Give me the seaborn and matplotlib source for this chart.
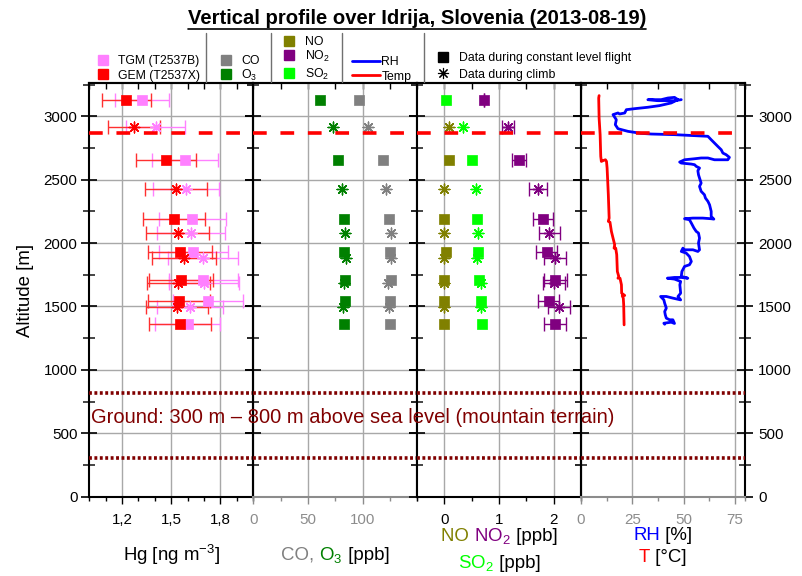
import matplotlib
matplotlib.use("Agg")
import matplotlib.pyplot as plt
import seaborn as sns
import numpy as np
import pandas as pd
from matplotlib.lines import Line2D
from matplotlib.ticker import MultipleLocator, FixedLocator, FuncFormatter
from matplotlib.offsetbox import TextArea, HPacker, AnchoredOffsetbox
import matplotlib.transforms as mtransforms
from matplotlib import font_manager

# ---------------- data ----------------
alt_level = [3131, 2652, 2189, 1928, 1710, 1547, 1361]   # constant level flight
alt_climb = [2913, 2428, 2078, 1881, 1684, 1492]         # during climb

gem_level = [1.226, 1.468, 1.516, 1.553, 1.557, 1.547, 1.553]
gem_level_err = [0.150, 0.183, 0.190, 0.197, 0.195, 0.190, 0.190]
tgm_level = [1.323, 1.584, 1.628, 1.634, 1.695, 1.726, 1.600]
tgm_level_err = [0.165, 0.200, 0.204, 0.210, 0.210, 0.213, 0.197]
gem_climb = [1.274, 1.527, 1.539, 1.577, 1.543, 1.533]
gem_climb_err = [0.158, 0.190, 0.193, 0.197, 0.193, 0.190]
tgm_climb = [1.405, 1.590, 1.620, 1.695, 1.701, 1.614]
tgm_climb_err = [0.180, 0.200, 0.210, 0.214, 0.212, 0.200]

o3_level = [61.3, 77.3, 82.7, 83.1, 84.0, 84.3, 83.4]
co_level = [97.0, 119.0, 124.6, 125.5, 125.8, 125.5, 125.2]
o3_climb = [73.4, 81.5, 84.3, 84.9, 82.7, 82.5]
co_climb = [104.6, 121.8, 125.8, 126.0, 123.4, 124.0]

no_level = [np.nan, 0.085, 0.0, 0.025, 0.0, 0.0, 0.0]
so2_level = [0.025, 0.497, 0.588, 0.606, 0.636, 0.661, 0.685]
no2_level = [0.716, 1.370, 1.800, 1.873, 2.025, 1.910, 2.030]
no2_level_err = [0.0, 0.13, 0.18, 0.19, 0.21, 0.19, 0.20]
no_climb = [0.085, 0.0, 0.0, 0.0, 0.0, 0.0]
so2_climb = [0.345, 0.576, 0.618, 0.588, 0.667, 0.667]
no2_climb = [1.164, 1.709, 1.921, 2.025, 2.000, 2.100]
no2_climb_err = [0.11, 0.17, 0.20, 0.20, 0.20, 0.20]

rh_vals = [40.8, 40.4, 44.0, 45.6, 44.8, 43.2, 41.6, 41.1, 40.8, 41.6,
           40.8, 40.4, 38.8, 41.6, 44.8, 48.6, 47.3, 48.6, 48.2, 48.6,
           45.6, 42.1, 45.6, 48.9, 52.1, 48.9, 49.2, 50.5, 52.9, 53.8,
           52.9, 51.3, 48.9, 49.7, 50.5, 54.6, 57.0, 57.8, 57.3, 57.8,
           57.3, 56.2, 55.1, 53.8, 52.9, 50.5, 54.6, 59.4, 63.5, 64.8,
           63.5, 63.5, 62.7, 61.9, 60.7, 60.2, 58.6, 57.8, 58.6, 57.8,
           57.3, 57.0, 57.8, 56.2, 55.4, 53.8, 48.9, 48.1, 50.5, 55.4,
           58.6, 61.9, 65.1, 71.6, 72.4, 70.8, 69.2, 68.4, 66.7, 65.1,
           63.5, 61.9, 45.6, 34.3, 29.4, 22.9, 18.0, 16.7, 17.2, 16.1,
           15.6, 18.0, 18.8, 21.3, 22.1, 26.2, 32.6, 38.3, 44.0, 45.6,
           47.3, 45.6, 42.4, 39.1, 35.9, 32.6, 37.5, 45.6, 48.9]
rh_alt = [1360, 1368, 1376, 1366, 1395, 1395, 1408, 1434, 1460, 1487,
          1526, 1552, 1579, 1579, 1566, 1552, 1579, 1605, 1671, 1697,
          1716, 1723, 1729, 1729, 1723, 1737, 1776, 1816, 1829, 1855,
          1894, 1921, 1934, 1960, 1947, 1947, 1934, 1947, 2000, 2039,
          2079, 2092, 2118, 2158, 2184, 2192, 2197, 2197, 2192, 2189,
          2210, 2250, 2302, 2329, 2355, 2381, 2408, 2447, 2473, 2513,
          2539, 2571, 2592, 2605, 2618, 2623, 2631, 2639, 2657, 2665,
          2671, 2671, 2657, 2657, 2676, 2697, 2710, 2736, 2763, 2789,
          2815, 2842, 2855, 2860, 2865, 2881, 2902, 2934, 2973, 3000,
          3013, 3026, 3018, 3026, 3052, 3060, 3071, 3084, 3105, 3118,
          3131, 3149, 3144, 3131, 3131, 3131, 3123, 3123, 3131]

t_vals = [21.0, 20.8, 20.6, 20.1, 21.3, 19.8, 19.7, 19.0, 18.0, 18.4,
          17.7, 17.4, 16.9, 16.1, 16.4, 15.6, 14.8, 14.1, 13.3, 13.7,
          13.3, 12.7, 12.4, 11.9, 10.7, 9.9, 9.6, 9.3, 8.8, 8.6, 8.8]
t_alt = [1355, 1513, 1566, 1584, 1587, 1605, 1671, 1723, 1723, 1737,
         1776, 1908, 1960, 1960, 1987, 2039, 2092, 2165, 2171, 2197,
         2381, 2592, 2644, 2657, 2650, 2644, 2684, 2855, 2986, 3144, 3163]

ceiling_alt = 2870          # red dashed line
ground_top_alt = 818        # dotted lines (ground range)
ground_bottom_alt = 305

title = "Vertical profile over Idrija, Slovenia (2013-08-19)"
ground_text = "Ground: 300 m \u2013 800 m above sea level (mountain terrain)"

# ---------------- style ----------------
sns.set_theme(style="white")
names = {f.name for f in font_manager.fontManager.ttflist}
NARROW = "Liberation Sans Narrow" in names
BASE = "Liberation Sans Narrow" if NARROW else "Liberation Sans"
k = 1.0 if NARROW else 0.84
plt.rcParams["font.family"] = [BASE, "DejaVu Sans"]
plt.rcParams["mathtext.fontset"] = "custom"
plt.rcParams["mathtext.rm"] = BASE
plt.rcParams["mathtext.it"] = BASE + ":italic"
plt.rcParams["mathtext.bf"] = BASE + ":bold"

C_TGM = "#ff80ff"; C_GEM = "#ff0000"; C_CO = "#808080"; C_O3 = "#008000"
C_NO = "#808000"; C_NO2 = "#800080"; C_SO2 = "#00ff00"
C_RH = "#0000ff"; C_T = "#ff0000"; C_GROUND = "#800000"
GRID = "#a8a8a8"; GRAYTXT = "#8c8c8c"
ASTER = (8, 2, 0)

W, H = 802, 576
fig, axes = plt.subplots(1, 4, figsize=(W / 100, H / 100), dpi=100, sharey=True)
fig.patch.set_facecolor("white")
fig.subplots_adjust(left=89.3 / W, right=745.0 / W, bottom=1 - 496.7 / H,
                    top=1 - 83.3 / H, wspace=0)
ax1, ax2, ax3, ax4 = axes

TICK_FS = 13 * k
LAB_FS = 16 * k


def squares(ax, x, y, c):
    sns.scatterplot(x=x, y=y, ax=ax, marker="s", s=48, color=c, edgecolor=c,
                    linewidth=0.5, zorder=5, legend=False)


def stars(ax, x, y, c):
    sns.scatterplot(x=x, y=y, ax=ax, marker=ASTER, s=60, color=c,
                    linewidth=1.0, zorder=5, legend=False)


def ebars(ax, x, y, err, c):
    ax.errorbar(x, y, xerr=err, fmt="none", ecolor=c, elinewidth=1.0,
                capsize=5, capthick=1.0, zorder=4)


# Panel 1: Hg
ebars(ax1, tgm_level, alt_level, tgm_level_err, C_TGM)
ebars(ax1, tgm_climb, alt_climb, tgm_climb_err, C_TGM)
ebars(ax1, gem_level, alt_level, gem_level_err, "#ff3030")
ebars(ax1, gem_climb, alt_climb, gem_climb_err, "#ff3030")
squares(ax1, tgm_level, alt_level, C_TGM)
stars(ax1, tgm_climb, alt_climb, C_TGM)
squares(ax1, gem_level, alt_level, C_GEM)
stars(ax1, gem_climb, alt_climb, C_GEM)

# Panel 2: CO, O3
squares(ax2, co_level, alt_level, C_CO)
stars(ax2, co_climb, alt_climb, C_CO)
squares(ax2, o3_level, alt_level, C_O3)
stars(ax2, o3_climb, alt_climb, C_O3)

# Panel 3: NO, NO2, SO2
ebars(ax3, no2_level, alt_level, no2_level_err, C_NO2)
ebars(ax3, no2_climb, alt_climb, no2_climb_err, C_NO2)
squares(ax3, no_level, alt_level, C_NO)
stars(ax3, no_climb, alt_climb, C_NO)
squares(ax3, so2_level, alt_level, C_SO2)
stars(ax3, so2_climb, alt_climb, C_SO2)
squares(ax3, no2_level, alt_level, C_NO2)
stars(ax3, no2_climb, alt_climb, C_NO2)

# Panel 4: RH, T
sns.lineplot(x=rh_vals, y=rh_alt, sort=False, estimator=None, ax=ax4,
             color=C_RH, lw=2.0, zorder=4)
sns.lineplot(x=t_vals, y=t_alt, sort=False, estimator=None, ax=ax4,
             color=C_T, lw=2.0, zorder=4)

# ---------------- axes ----------------
comma = FuncFormatter(lambda v, p: f"{v:.1f}".replace(".", ","))
xsetup = [
    (ax1, (1.0, 2.0), [1.2, 1.5, 1.8], [1.0, 1.1, 1.3, 1.4, 1.6, 1.7, 1.9, 2.0], "black", comma),
    (ax2, (0, 150), [0, 50, 100], [25, 75, 125, 150], GRAYTXT, None),
    (ax3, (-0.5, 2.5), [0, 1, 2], [-0.5, 0.5, 1.5, 2.5], "black", None),
    (ax4, (0, 80), [0, 25, 50, 75], [12.5, 37.5, 62.5, 80], GRAYTXT, None),
]
for ax, lim, maj, mnr, col, fmt in xsetup:
    ax.set_facecolor("white")
    ax.set_xlim(*lim)
    ax.set_ylim(0, 3260)
    ax.xaxis.set_major_locator(FixedLocator(maj))
    ax.xaxis.set_minor_locator(FixedLocator(mnr))
    if fmt is not None:
        ax.xaxis.set_major_formatter(fmt)
    ax.yaxis.set_major_locator(MultipleLocator(500))
    ax.yaxis.set_minor_locator(MultipleLocator(250))
    ax.grid(False)
    ax.xaxis.grid(True, which="major", color=GRID, lw=1.0)
    ax.yaxis.grid(True, which="major", color=GRID, lw=1.0)
    ax.set_axisbelow(True)
    ax.set_xlabel(""); ax.set_ylabel("")
    ax.tick_params(axis="x", which="major", direction="out", length=5, width=1.0,
                   colors=col, labelcolor=col, labelsize=TICK_FS, pad=7,
                   bottom=True, top=False)
    ax.tick_params(axis="x", which="minor", direction="out", length=3, width=1.0,
                   colors=col, bottom=True, top=False)
    ax.tick_params(axis="y", which="major", direction="inout", length=11, width=1.2,
                   left=True, right=True, labelleft=False, labelright=False,
                   labelsize=TICK_FS, colors="black", pad=3)
    ax.tick_params(axis="y", which="minor", direction="inout", length=8, width=1.2,
                   left=True, right=True)
    for s in ("left", "right", "top"):
        ax.spines[s].set_visible(True)
        ax.spines[s].set_color("black")
        ax.spines[s].set_linewidth(1.5)
    ax.spines["bottom"].set_visible(True)
    ax.spines["bottom"].set_color(col)
    ax.spines["bottom"].set_linewidth(1.5)
    sec = ax.secondary_xaxis("top")
    sec.xaxis.set_major_locator(FixedLocator(maj))
    sec.xaxis.set_minor_locator(FixedLocator(mnr))
    sec.tick_params(axis="x", which="both", direction="in", labeltop=False,
                    length=4, width=1.0, colors="black")
    sec.spines["top"].set_linewidth(1.5)

    ax.axhline(ceiling_alt, color="#ff0000", lw=2.6, ls=(0, (3.8, 3.8)), zorder=6)
    ax.axhline(ground_top_alt, color=C_GROUND, lw=2.6, ls=(0, (0.8, 0.7)), zorder=6)
    ax.axhline(ground_bottom_alt, color=C_GROUND, lw=2.6, ls=(0, (0.8, 0.7)), zorder=6)

ax1.tick_params(axis="y", labelleft=True)
ax4.tick_params(axis="y", labelright=True, pad=4)
ax1.set_ylabel("Altitude [m]", fontsize=LAB_FS, color="black", labelpad=7)

# ground annotation (figure-level so it sits above all panels)
trans = mtransforms.blended_transform_factory(ax1.transAxes, ax1.transData)
fig.text(0.01, 625, ground_text, transform=trans, color=C_GROUND,
         fontsize=17.3 * k, va="center", ha="left", zorder=10)


# multi-coloured x-axis labels
def colored_label(ax, pieces, yfrac, fs=LAB_FS):
    boxes = [TextArea(s, textprops=dict(color=c, fontsize=fs)) for s, c in pieces]
    pack = HPacker(children=boxes, align="baseline", pad=0, sep=0)
    ab = AnchoredOffsetbox(loc="center", child=pack, pad=0, borderpad=0,
                           frameon=False, bbox_to_anchor=(0.5, yfrac),
                           bbox_transform=ax.transAxes)
    fig.add_artist(ab)


def yf(px):
    return (496.7 - px) / 413.4


colored_label(ax1, [("Hg [ng m$^{-3}$]", "black")], yf(555))
colored_label(ax2, [("CO, ", C_CO), ("O$_3$", C_O3), (" [ppb]", "black")], yf(555))
colored_label(ax3, [("NO ", C_NO), ("NO$_2$", C_NO2), (" [ppb]", "black")], yf(536))
colored_label(ax3, [("SO$_2$", C_SO2), (" [ppb]", "black")], yf(563))
colored_label(ax4, [("RH", C_RH), (" [%]", "black")], yf(535))
colored_label(ax4, [("T", C_T), (" [\u00b0C]", "black")], yf(557))

# ---------------- legend (top) ----------------
LEG_FS = 10.5 * k
base_off = 0.36 * LEG_FS * 100 / 72


def fx(x):
    return x / W


def fy(y):
    return 1 - y / H


def leg_marker(x, y, marker, c, ms=6.5, mew=1.0):
    fig.add_artist(Line2D([fx(x)], [fy(y)], marker=marker, ms=ms, color=c,
                          mec=c, mfc=c, mew=mew, ls="none",
                          transform=fig.transFigure))


def leg_line(x0, x1, y, c):
    fig.add_artist(Line2D([fx(x0), fx(x1)], [fy(y), fy(y)], color=c, lw=2.0,
                          transform=fig.transFigure))


def leg_text(x, y, s):
    fig.text(fx(x), fy(y + base_off), s, fontsize=LEG_FS, va="baseline",
             ha="left", color="black")


def sep(x):
    fig.add_artist(Line2D([fx(x), fx(x)], [fy(33), fy(82)], color="#707070",
                          lw=1.0, transform=fig.transFigure))


leg_marker(102.7, 60, "s", C_TGM); leg_text(118, 60, "TGM (T2537B)")
leg_marker(102.7, 74.3, "s", C_GEM); leg_text(118, 74.3, "GEM (T2537X)")
sep(206)
leg_marker(225.7, 60, "s", C_CO); leg_text(241.5, 60, "CO")
leg_marker(225.7, 74.3, "s", C_O3); leg_text(241.5, 74.3, "O$_3$")
sep(270.7)
leg_marker(289, 40.7, "s", C_NO); leg_text(305, 40.7, "NO")
leg_marker(289, 55, "s", C_NO2); leg_text(305, 55, "NO$_2$")
leg_marker(289, 73.3, "s", C_SO2); leg_text(305, 73.3, "SO$_2$")
sep(341.7)
leg_line(351.7, 380, 60.7, C_RH); leg_text(381.5, 60.7, "RH")
leg_line(351.7, 380, 75.3, C_T); leg_text(381.5, 75.3, "Temp")
sep(424)
leg_marker(443.3, 56.7, "s", "black"); leg_text(459, 56.7, "Data during constant level flight")
leg_marker(443.3, 73.3, ASTER, "black", ms=8, mew=0.8); leg_text(459, 73.3, "Data during climb")

# ---------------- title (underlined) ----------------
tx = (89.3 + 745.0) / 2 / W
t = fig.text(tx, fy(18), title, fontsize=17.4 * k, fontweight="bold",
             ha="center", va="center", color="black")
fig.canvas.draw()
bb = t.get_window_extent().transformed(fig.transFigure.inverted())
fig.add_artist(Line2D([bb.x0, bb.x1], [bb.y0 - 0.002, bb.y0 - 0.002],
                      color="black", lw=1.2, transform=fig.transFigure))

fig.savefig("out.png", dpi=100, facecolor="white")
